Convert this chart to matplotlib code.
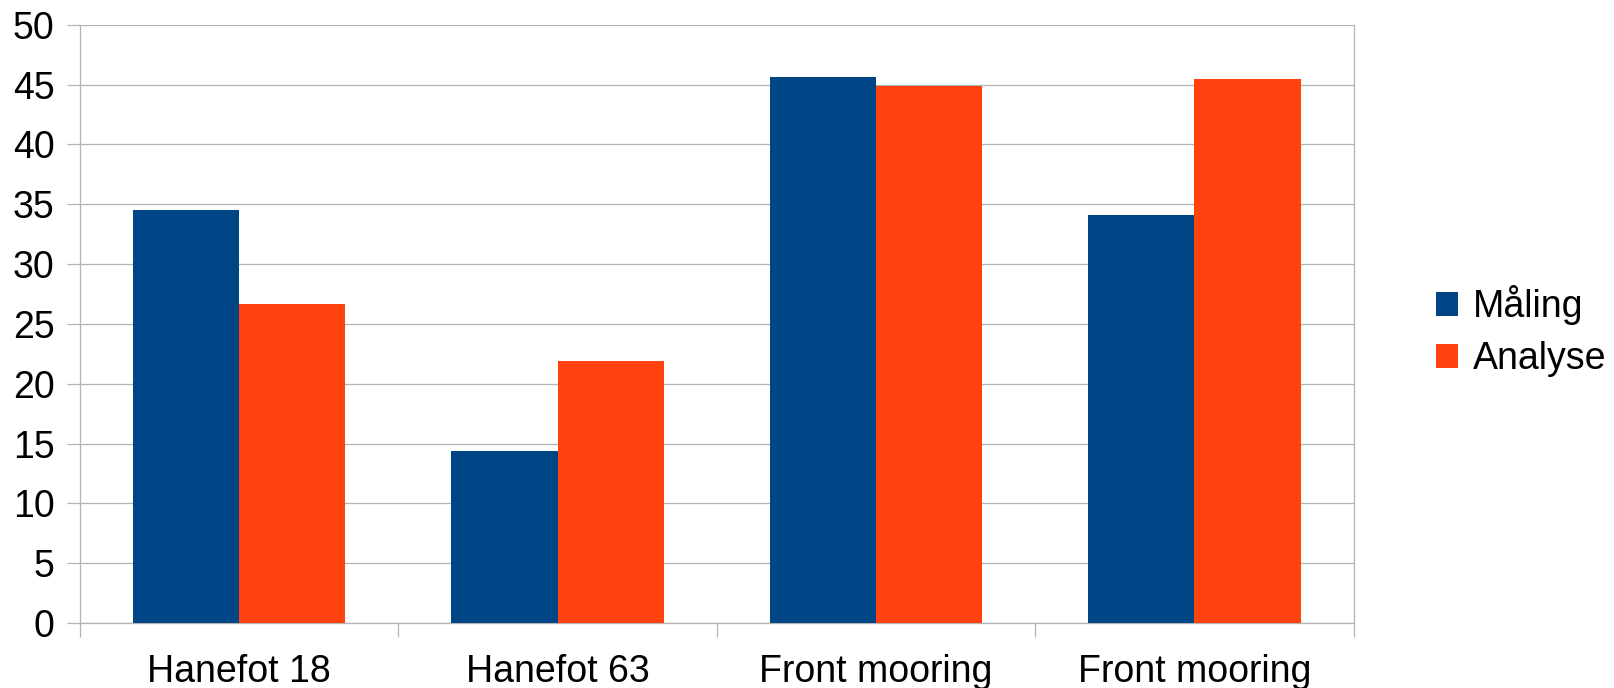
import matplotlib
matplotlib.use("Agg")
import matplotlib.pyplot as plt
import numpy as np

plt.rcParams['font.family'] = ['Liberation Sans', 'DejaVu Sans']

# data
categories = ['Hanefot 18', 'Hanefot 63', 'Front mooring', 'Front mooring']
maaling = [34.5, 14.4, 45.6, 34.1]
analyse = [26.7, 21.9, 44.9, 45.5]
series_names = ['Måling', 'Analyse']

blue = '#004586'
orange = '#ff420e'
grid_col = '#b3b3b3'
fs = 27

fig = plt.figure(figsize=(16.15, 6.88), dpi=100)
ax = fig.add_axes([80 / 1615, 65 / 688, (1353.7 - 80) / 1615, (623 - 24.7) / 688])

x = np.arange(len(categories)) + 0.5
w = 1 / 3
ax.bar(x - w / 2, maaling, width=w, color=blue, label=series_names[0], zorder=3)
ax.bar(x + w / 2, analyse, width=w, color=orange, label=series_names[1], zorder=3)

ax.set_xlim(0, len(categories))
ax.set_ylim(0, 50)
ax.set_yticks(range(0, 51, 5))
ax.yaxis.grid(True, color=grid_col, lw=0.9, zorder=0)
ax.set_axisbelow(True)

ax.set_xticks(x)
ax.set_xticklabels(categories, fontsize=fs)
ax.set_xticks(np.arange(len(categories) + 1), minor=True)
ax.tick_params(axis='x', which='major', length=0, pad=22)
ax.tick_params(axis='x', which='minor', length=10, width=0.9, color=grid_col, direction='out')
ax.tick_params(axis='y', length=9.4, width=0.9, color=grid_col, pad=9, labelsize=fs)

for side in ['left', 'right', 'bottom']:
    ax.spines[side].set_color(grid_col)
    ax.spines[side].set_linewidth(0.9)
ax.spines['top'].set_visible(False)

fig.legend(loc='center left', bbox_to_anchor=(1435.7 / 1615, 1 - 331 / 688),
           frameon=False, fontsize=fs, borderpad=0, borderaxespad=0,
           handlelength=0.6, handleheight=0.6, handletextpad=0.38,
           labelspacing=0.42)

fig.savefig('out.png', dpi=100)
